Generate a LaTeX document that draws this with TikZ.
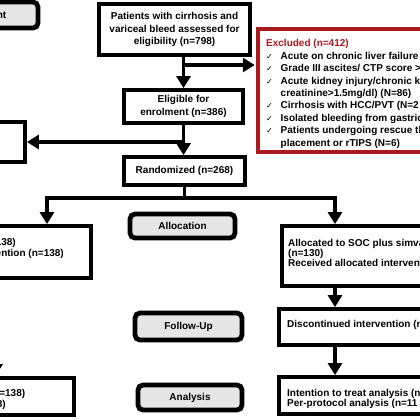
\documentclass[tikz,border=0pt]{standalone}
\usepackage{fontspec}
\setmainfont{Liberation Sans}
\newfontfamily\dejavu{DejaVu Sans}
\usetikzlibrary{arrows.meta,calc}
\definecolor{exred}{RGB}{170,25,30}
\definecolor{boxgray}{RGB}{230,230,230}
\newcommand\chk{\makebox[14.5pt][l]{{\dejavu\mdseries\fontsize{8}{8}\selectfont ✓}}}
\newcommand\ind{\hspace*{14.5pt}}
\begin{document}
\begin{tikzpicture}[x=1pt,y=-1pt,
  box/.style={draw, line width=3.8pt, inner sep=0pt, align=center,
    font=\bfseries\fontsize{10}{12.5}\selectfont},
  stage/.style={draw, line width=4.8pt, rounded corners=5pt, fill=boxgray, inner sep=0pt,
    font=\bfseries\fontsize{10}{12}\selectfont},
  txt/.style={inner sep=0pt, align=left, font=\bfseries\fontsize{10}{10}\selectfont},
  arr/.style={line width=3.8pt, -{Triangle[width=14pt,length=12pt]}},
  ln/.style={line width=3.8pt}]
\fill[white] (0,0) rectangle (420,420);
\useasboundingbox (0,0) rectangle (420,420);
\clip (0,0) rectangle (420,420);

% stage labels
\node[stage, minimum width=113pt, minimum height=26pt] (enrol) at (-18.5,15) {Enrolment};
\node[stage, minimum width=105pt, minimum height=24pt] (alloc) at (182.5,226) {Allocation};
\node[stage, minimum width=107pt, minimum height=27pt] (follow) at (188.5,326.5) {Follow-Up};
\node[stage, minimum width=104pt, minimum height=25pt] (analysis) at (190,397.5) {Analysis};

% main boxes
\node[box, minimum width=151pt, minimum height=51pt] (patients) at (174.5,29.5)
  {Patients with cirrhosis and\\variceal bleed assessed for\\eligibility (n=798)};
\node[box, draw=exred, line width=3.5pt, minimum width=302pt, minimum height=123pt] (excl) at (409,90.5) {};
\node[txt, font=\bfseries\fontsize{10}{12.4}\selectfont, anchor=north west] (excltxt) at (266,39.4)
  {{\color{exred}Excluded (n=412)}\\
   \chk Acute on chronic liver failure\\
   \chk Grade III ascites/ CTP score >\\
   \chk Acute kidney injury/chronic kidney disease (serum\\
   \ind creatinine>1.5mg/dl) (N=86)\\
   \chk Cirrhosis with HCC/PVT (N=2\\
   \chk Isolated bleeding from gastric varices\\
   \chk Patients undergoing rescue therapy\\
   \ind placement or rTIPS (N=6)};
\node[box, minimum width=119pt, minimum height=33pt] (eligible) at (183.5,106.5)
  {Eligible for\\enrolment (n=386)};
\node[box, minimum width=125pt, minimum height=40pt] (leftnr) at (-37.5,142) {};
\node[box, minimum width=121pt, minimum height=28pt] (random) at (184.5,171) {Randomized (n=268)};

\node[box, minimum width=291pt, minimum height=52pt] (leftalloc) at (-54.5,252) {};
\node[txt, anchor=base east] (la1) at (16,245.5) {Allocated to SOC (n=138)};
\node[txt, anchor=base east] (la2) at (64,256.5) {Received allocated intervention (n=138)};

\node[box, minimum width=318pt, minimum height=60pt] (rightalloc) at (441,256) {};
\node[txt, anchor=north west] (ratxt) at (288,239.3)
  {Allocated to SOC plus simvastatin\\(n=130)\\Received allocated intervention};

\node[box, minimum width=321pt, minimum height=36pt] (rightdisc) at (439.5,327) {};
\node[txt, anchor=north west] (rdtxt) at (287,320.3) {Discontinued intervention (n};

\node[box, minimum width=274pt, minimum height=37pt] (leftitt) at (-63,396.5) {};
\node[txt, font=\bfseries\fontsize{10}{11}\selectfont, anchor=north west] (litt) at (-134.2,389.3)
  {Intention to treat analysis (n=138)\\Per-protocol analysis (n=138)};

\node[box, minimum width=321pt, minimum height=37pt] (rightitt) at (439.5,395.5) {};
\node[txt, anchor=north west] (ritt) at (287,389.3)
  {Intention to treat analysis (n\\Per-protocol analysis (n=11};

% connectors
\coordinate (xa) at (183.5,65);
\coordinate (xb) at (183.5,142);
\coordinate (xc) at (184.5,198);
\coordinate (la) at (47,198);
\coordinate (ra) at (335,198);
\coordinate (lc) at (-4.5,300);

\draw[arr] (patients.south -| eligible.north) -- (eligible.north);
\draw[arr, shorten >=1.5pt] (xa) -- (xa -| excl.west);
\draw[arr] (eligible.south) -- (eligible.south |- random.north);
\draw[arr] (xb) -- (xb -| leftnr.east);
\draw[ln] (random.south) -- (xc);
\draw[arr] (xc) -- (la) -- (la |- leftalloc.north);
\draw[arr] (xc) -- (ra) -- (ra |- rightalloc.north);
\draw[arr] (ra |- rightalloc.south) -- (ra |- rightdisc.north);
\draw[arr] (ra |- rightdisc.south) -- (ra |- rightitt.north);
\draw[arr] (lc |- leftalloc.south) -- (lc |- leftitt.north);
\end{tikzpicture}
\end{document}
